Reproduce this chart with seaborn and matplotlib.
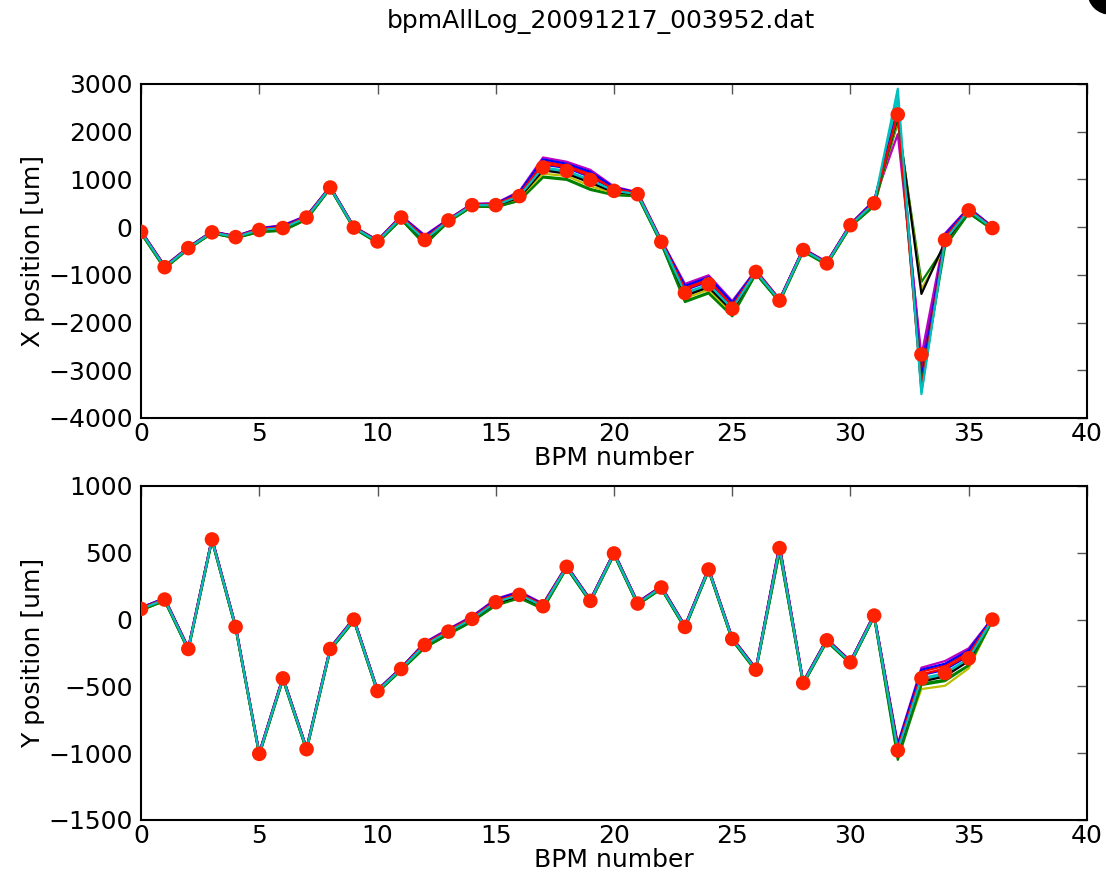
import numpy as np
import pandas as pd
import matplotlib
matplotlib.use('Agg')
import matplotlib.pyplot as plt
import matplotlib.patches as patches
import seaborn as sns

# BPM index
bpm = list(range(37))

# mean orbit (red dots)
x_mean = [-100, -840, -440, -110, -210, -60, -20, 200, 830, -10, -300, 200, -270, 140, 460, 460, 650, 1250, 1180, 990, 760, 690, -310, -1380, -1200, -1710, -940, -1540, -480, -760, 40, 500, 2360, -2670, -270, 350, -20]
y_mean = [80, 150, -220, 600, -55, -1005, -440, -970, -220, 0, -535, -370, -190, -90, 5, 130, 185, 100, 395, 140, 495, 120, 240, -55, 375, -145, -375, 535, -475, -155, -320, 30, -980, -440, -400, -290, 0]

# individual logged orbits, X plane
x_run0 = [-90, -830, -430, -100, -200, -50, 0, 210, 840, 0, -290, 210, -240, 150, 470, 470, 680, 1310, 1240, 1050, 790, 700, -300, -1320, -1140, -1660, -930, -1530, -470, -750, 50, 520, 2400, -2900, -230, 370, -10]
x_run1 = [-130, -870, -460, -130, -230, -100, -70, 160, 810, -30, -330, 160, -360, 110, 430, 420, 560, 1060, 1010, 800, 680, 650, -350, -1550, -1370, -1850, -980, -1570, -510, -790, 10, 450, 2200, -1150, -400, 300, -50]
x_run2 = [-80, -820, -430, -100, -200, -40, 20, 220, 840, 0, -280, 220, -210, 160, 480, 480, 710, 1380, 1290, 1120, 810, 710, -290, -1270, -1090, -1610, -920, -1520, -460, -740, 60, 540, 2500, -3100, -190, 390, 0]
x_run3 = [-100, -840, -440, -110, -210, -60, -30, 200, 830, -10, -300, 200, -280, 140, 460, 460, 640, 1230, 1160, 970, 750, 690, -310, -1400, -1220, -1730, -940, -1540, -480, -760, 40, 490, 2700, -3450, -280, 340, -20]
x_run4 = [-70, -810, -420, -90, -190, -20, 40, 240, 850, 10, -270, 240, -170, 170, 490, 500, 750, 1460, 1370, 1200, 850, 730, -270, -1190, -1010, -1550, -900, -1510, -450, -730, 70, 560, 1950, -2700, -130, 410, 10]
x_run5 = [-120, -860, -450, -120, -220, -80, -60, 180, 820, -20, -320, 180, -330, 120, 440, 440, 590, 1120, 1070, 860, 710, 670, -330, -1490, -1310, -1810, -960, -1560, -500, -780, 20, 460, 2250, -1300, -420, 420, -30]
x_run6 = [-110, -850, -450, -120, -220, -70, -40, 190, 820, -20, -310, 190, -300, 130, 450, 450, 620, 1190, 1120, 930, 730, 680, -320, -1440, -1260, -1760, -950, -1550, -490, -770, 30, 480, 2300, -1400, -310, 330, -30]
x_run7 = [-80, -820, -420, -90, -190, -30, 30, 230, 850, 10, -280, 230, -190, 160, 480, 490, 730, 1420, 1330, 1160, 830, 720, -280, -1230, -1050, -1580, -910, -1520, -460, -740, 60, 550, 2450, -3200, -160, 400, 0]
x_run8 = [-130, -870, -460, -130, -230, -100, -80, 160, 810, -30, -330, 160, -370, 110, 430, 420, 550, 1040, 990, 780, 670, 650, -350, -1570, -1390, -1870, -980, -1570, -510, -790, 10, 440, 2350, -3300, -410, 290, -50]
x_run9 = [-90, -830, -430, -100, -200, -40, 0, 220, 840, 0, -290, 220, -230, 150, 470, 480, 690, 1330, 1260, 1070, 800, 710, -290, -1300, -1120, -1650, -920, -1530, -470, -750, 50, 520, 2400, -3400, -210, 370, -10]
x_run10 = [-100, -840, -440, -110, -210, -60, -20, 200, 830, -10, -300, 200, -270, 140, 460, 460, 650, 1250, 1180, 990, 760, 690, -310, -1380, -1200, -1710, -940, -1540, -480, -760, 40, 500, 2900, -3500, -270, 350, -20]

# individual logged orbits, Y plane
y_run0 = [85, 155, -215, 605, -50, -1000, -435, -965, -215, 5, -530, -365, -185, -85, 10, 140, 195, 105, 400, 145, 500, 125, 245, -50, 380, -140, -370, 545, -470, -150, -315, 35, -965, -415, -375, -270, 5]
y_run1 = [70, 140, -230, 590, -65, -1015, -450, -980, -230, -10, -545, -380, -210, -110, -15, 110, 165, 80, 385, 130, 485, 110, 230, -65, 365, -155, -385, 505, -485, -165, -330, 20, -1025, -480, -450, -340, -10]
y_run2 = [85, 155, -215, 605, -50, -1000, -435, -965, -215, 5, -530, -365, -180, -80, 15, 140, 195, 110, 400, 145, 500, 125, 245, -50, 380, -140, -370, 555, -470, -150, -315, 35, -950, -390, -345, -245, 5]
y_run3 = [80, 150, -220, 600, -55, -1005, -440, -970, -220, 0, -535, -370, -190, -90, 5, 130, 185, 100, 395, 140, 495, 120, 240, -55, 375, -145, -375, 535, -475, -155, -320, 30, -985, -450, -410, -300, 0]
y_run4 = [90, 160, -210, 610, -45, -995, -430, -960, -210, 10, -525, -360, -170, -70, 25, 155, 210, 120, 405, 150, 505, 130, 250, -45, 385, -135, -365, 565, -465, -145, -310, 40, -930, -360, -310, -215, 10]
y_run5 = [75, 145, -225, 595, -60, -1010, -445, -975, -225, -5, -540, -375, -200, -100, -5, 115, 170, 90, 390, 135, 490, 115, 235, -60, 370, -150, -380, 515, -480, -160, -325, 25, -1010, -520, -495, -365, -5]
y_run6 = [75, 145, -225, 595, -60, -1010, -445, -975, -225, -5, -540, -375, -195, -95, 0, 120, 175, 95, 390, 135, 490, 115, 235, -60, 370, -150, -380, 525, -480, -160, -325, 25, -995, -465, -425, -310, -5]
y_run7 = [90, 160, -210, 610, -45, -995, -430, -960, -210, 10, -525, -360, -175, -75, 20, 150, 205, 115, 405, 150, 505, 130, 250, -45, 385, -135, -365, 555, -465, -145, -310, 40, -940, -375, -330, -230, 10]
y_run8 = [70, 140, -230, 590, -65, -1015, -450, -980, -230, -10, -545, -380, -210, -110, -15, 105, 160, 80, 385, 130, 485, 110, 230, -65, 365, -155, -385, 505, -485, -165, -330, 20, -1050, -490, -460, -345, -10]
y_run9 = [85, 155, -215, 605, -50, -1000, -435, -965, -215, 5, -530, -365, -180, -80, 15, 140, 195, 110, 400, 145, 500, 125, 245, -50, 380, -140, -370, 545, -470, -150, -315, 35, -960, -410, -365, -260, 5]
y_run10 = [80, 150, -220, 600, -55, -1005, -440, -970, -220, 0, -535, -370, -190, -90, 5, 130, 185, 100, 395, 140, 495, 120, 240, -55, 375, -145, -375, 535, -475, -155, -320, 30, -980, -440, -400, -290, 0]

x_runs = [x_run0, x_run1, x_run2, x_run3, x_run4, x_run5, x_run6, x_run7, x_run8, x_run9, x_run10]
y_runs = [y_run0, y_run1, y_run2, y_run3, y_run4, y_run5, y_run6, y_run7, y_run8, y_run9, y_run10]

# old matplotlib colour cycle b g r c m y k
classic = ['#0000ff', '#008000', '#ff0000', '#00bfbf', '#bf00bf', '#bfbf00', '#000000']
palette = [classic[i % 7] for i in range(len(x_runs))]

rows = []
for r in range(len(x_runs)):
	for i in bpm:
		rows.append([r, i, x_runs[r][i], y_runs[r][i]])
df = pd.DataFrame(rows, columns=['run', 'bpm', 'x', 'y'])
means = pd.DataFrame({'bpm': bpm, 'x': x_mean, 'y': y_mean})

sns.set_style('white')
plt.rcParams['font.family'] = ['DejaVu Sans']
plt.rcParams['text.color'] = 'black'
plt.rcParams['axes.labelcolor'] = 'black'
plt.rcParams['xtick.color'] = 'black'
plt.rcParams['ytick.color'] = 'black'

fs = 18

fig = plt.figure(figsize=(11.06, 8.82), dpi=100)
ax1 = fig.add_axes([0.1275, 0.5261, 0.8553, 0.3787])
ax2 = fig.add_axes([0.1275, 0.0703, 0.8553, 0.3787])

for ax, col, lims, step, lab in [(ax1, 'x', (-4000, 3000), 1000, 'X position [um]'),
								 (ax2, 'y', (-1500, 1000), 500, 'Y position [um]')]:
	sns.lineplot(data=df, x='bpm', y=col, hue='run', palette=palette, estimator=None,
				 linewidth=1.6, legend=False, ax=ax)
	sns.scatterplot(data=means, x='bpm', y=col, color='#ff2200', s=110, edgecolor='none',
					ax=ax, zorder=5)
	ax.set_xlim(0, 40)
	ax.set_ylim(*lims)
	ax.set_xticks(np.arange(0, 41, 5))
	ax.set_yticks(np.arange(lims[0], lims[1] + 1, step))
	ax.tick_params(axis='both', which='major', labelsize=fs, length=7, width=1,
				   color='#555555', labelcolor='black', top=True, right=True,
				   direction='in')
	ax.tick_params(axis='x', pad=3)
	ax.tick_params(axis='y', pad=6)
	ax.set_xlabel('BPM number', fontsize=fs, labelpad=0)
	ax.set_ylabel(lab, fontsize=fs, labelpad=2)
	for sp in ax.spines.values():
		sp.set_linewidth(1.5)
		sp.set_color('black')
	ax.set_facecolor('white')

fig.text(0.543, 0.976, 'bpmAllLog_20091217_003952.dat', ha='center', va='center', fontsize=fs)

# window corner blob at top right
corner = patches.Ellipse((1110 / 1106, 1 + 8 / 882), width=44 / 1106, height=44 / 882,
						 transform=fig.transFigure, color='black', clip_on=False)
fig.add_artist(corner)

fig.savefig('out.png', dpi=100, facecolor='white')
